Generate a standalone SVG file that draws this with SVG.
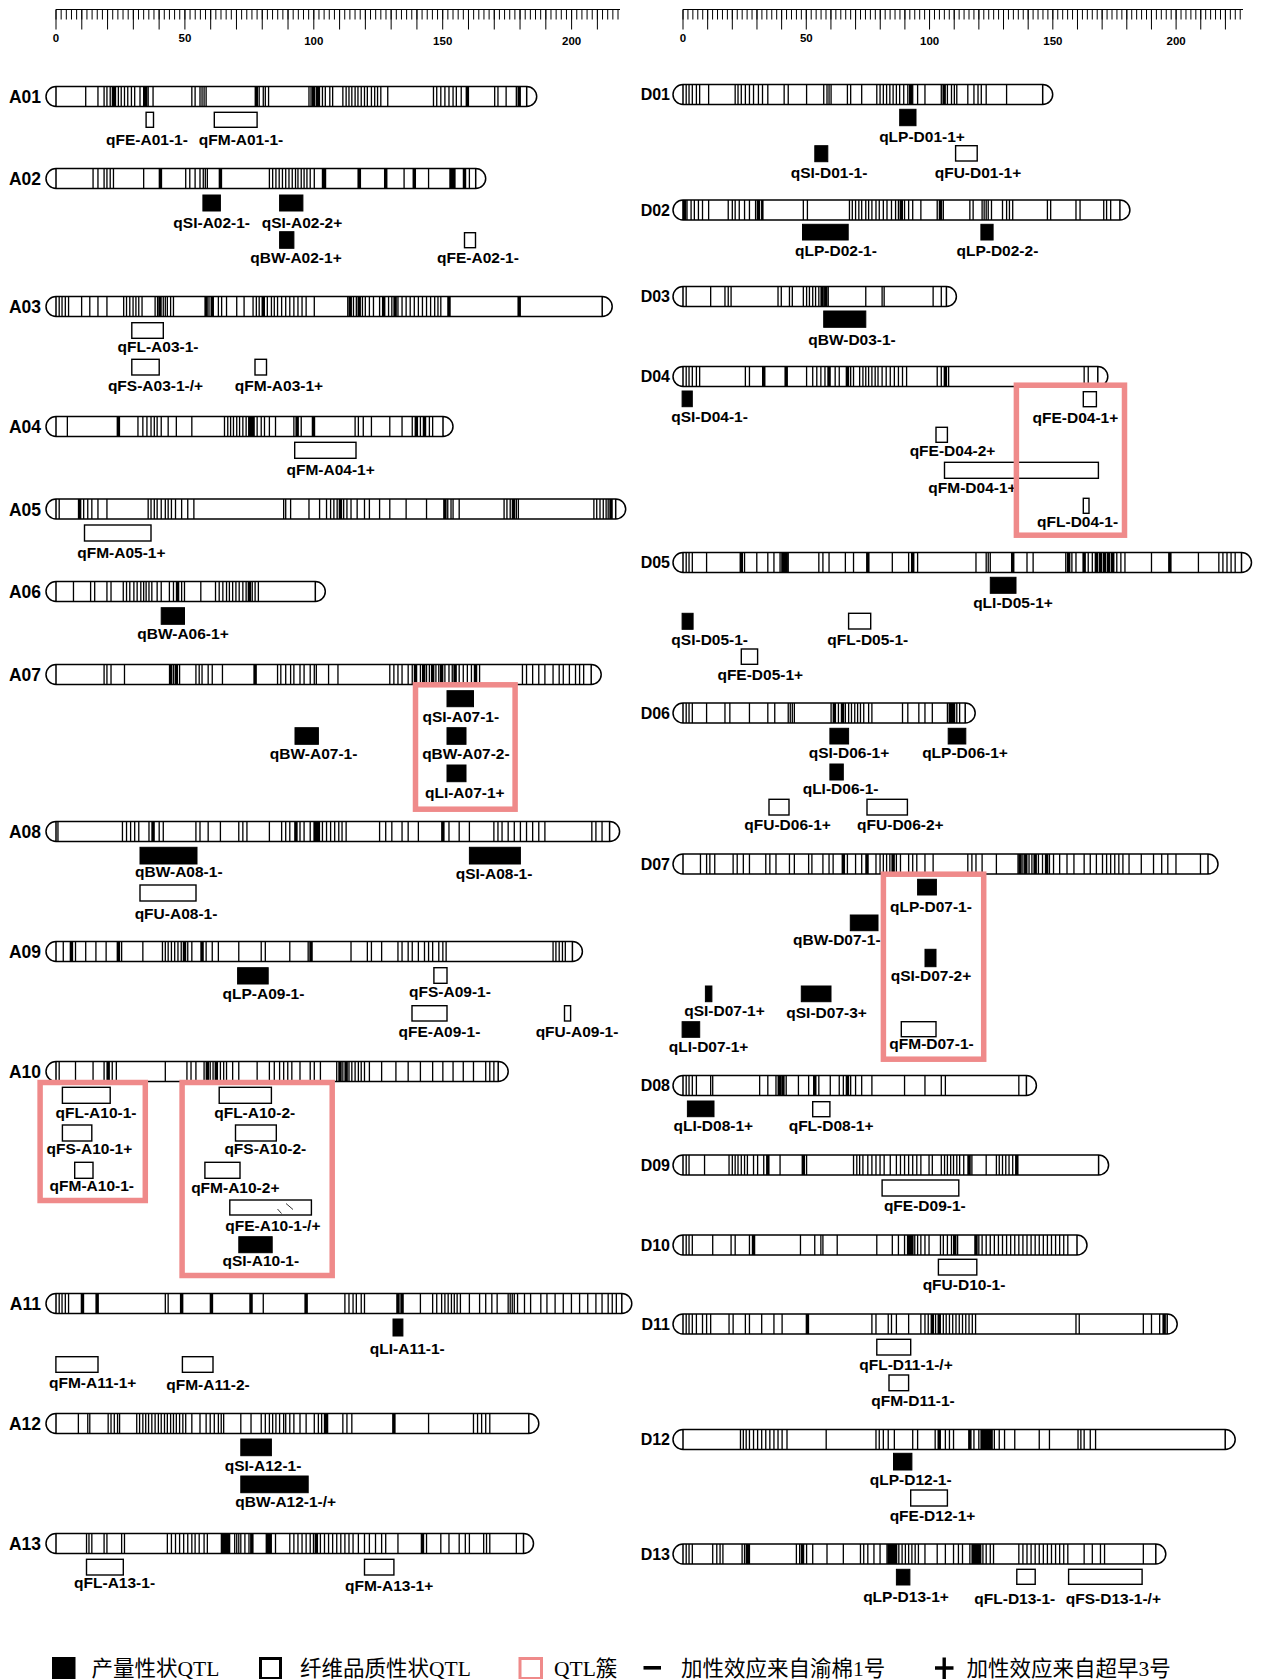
<svg xmlns="http://www.w3.org/2000/svg" width="1267" height="1679" viewBox="0 0 1267 1679">
<style>
.ch{fill:#fff;stroke:#000;stroke-width:1.5}
.bt{fill:none;stroke:#000;stroke-width:3.2}
.bk{fill:none;stroke:#000;stroke-width:8.5}
.qb{fill:#000;stroke:#000;stroke-width:1}
.qw{fill:#fff;stroke:#000;stroke-width:1.4}
.lb{font-family:"Liberation Sans",Arial,sans-serif;font-weight:bold;font-size:15.5px;text-anchor:middle;fill:#000}
.cl{font-family:"Liberation Sans",Arial,sans-serif;font-weight:bold;font-size:17.5px;text-anchor:end;fill:#000}
.cr{font-family:"Liberation Sans",Arial,sans-serif;font-weight:bold;font-size:16px;text-anchor:end;fill:#000}
.rl{font-family:"Liberation Sans",Arial,sans-serif;font-weight:bold;font-size:11.5px;text-anchor:middle;fill:#000}
.rc{fill:none;stroke:#ef8a8a;stroke-width:5.5}
.lg{font-family:"Liberation Serif","Noto Sans CJK SC",serif;font-size:21.5px;fill:#000}
</style>
<rect width="1267" height="1679" fill="#fff"/>

<g id="ruler-left">
<path d="M56 9.5H620" stroke="#000" stroke-width="1.2"/>
<line x1="55.5" y1="14.5" x2="620" y2="14.5" stroke="#000" stroke-width="10" stroke-dasharray="1 4.156"/>
<line x1="55.5" y1="19.5" x2="620" y2="19.5" stroke="#000" stroke-width="20" stroke-dasharray="1 24.78"/>
<text class="rl" x="56" y="41.5">0</text><text class="rl" x="184.9" y="41.5">50</text><text class="rl" x="313.8" y="44.7">100</text><text class="rl" x="442.7" y="44.7">150</text><text class="rl" x="571.6" y="44.7">200</text>
</g>
<g id="ruler-right">
<path d="M683 9.5H1243" stroke="#000" stroke-width="1.2"/>
<line x1="682.5" y1="14.5" x2="1243" y2="14.5" stroke="#000" stroke-width="10" stroke-dasharray="1 3.931"/>
<line x1="682.5" y1="19.5" x2="1243" y2="19.5" stroke="#000" stroke-width="20" stroke-dasharray="1 23.655"/>
<text class="rl" x="683" y="41.5">0</text><text class="rl" x="806.3" y="41.5">50</text><text class="rl" x="929.6" y="44.7">100</text><text class="rl" x="1052.9" y="44.7">150</text><text class="rl" x="1176.1" y="44.7">200</text>
</g>

<!-- A chromosomes -->
<g id="A01"><text class="cl" x="41" y="103">A01</text>
<path class="ch" d="M56 86.5h470.7a10 10 0 0 1 0 20h-470.7a10 10 0 0 1 0-20zM56 86.5v20M526.7 86.5v20"/>
<g transform="translate(0 86.5) scale(.408163 1)"><path class="bt" d="M210 0v20M240 0v20M255 0v20M262 0v20M270 0v20M283 0v20M290 0v20M297 0v20M305 0v20M313 0v20M322 0v20M330 0v20M343 0v20M352 0v20M363 0v20M375 0v20M470 0v20M478 0v20M490 0v20M495 0v20M500 0v20M505 0v20M635 0v20M645 0v20M650 0v20M658 0v20M757 0v20M762 0v20M775 0v20M790 0v20M797 0v20M808 0v20M815 0v20M840 0v20M848 0v20M855 0v20M862 0v20M870 0v20M877 0v20M885 0v20M893 0v20M900 0v20M910 0v20M918 0v20M925 0v20M933 0v20M950 0v20M1062 0v20M1070 0v20M1080 0v20M1090 0v20M1100 0v20M1110 0v20M1118 0v20M1130 0v20M1212 0v20M1220 0v20M1240 0v20M1265 0v20"/><path class="bk" d="M278 0v20M357 0v20M628 0v20M768 0v20M780 0v20M1145 0v20M1272 0v20"/></g>
</g>
<g id="A02"><text class="cl" x="41" y="185">A02</text>
<path class="ch" d="M56 168.5h419.7a10 10 0 0 1 0 20h-419.7a10 10 0 0 1 0-20zM56 168.5v20M475.7 168.5v20"/>
<g transform="translate(0 168.5) scale(.408163 1)"><path class="bt" d="M228 0v20M240 0v20M255 0v20M262 0v20M270 0v20M278 0v20M352 0v20M455 0v20M465 0v20M478 0v20M490 0v20M498 0v20M503 0v20M508 0v20M660 0v20M668 0v20M676 0v20M684 0v20M692 0v20M700 0v20M708 0v20M716 0v20M724 0v20M730 0v20M738 0v20M745 0v20M752 0v20M760 0v20M770 0v20M790 0v20M883 0v20M990 0v20M1050 0v20M1150 0v20"/><path class="bk" d="M393 0v20M540 0v20M795 0v20M880 0v20M945 0v20M1015 0v20M1105 0v20M1112 0v20M1138 0v20"/></g>
</g>
<g id="A03"><text class="cl" x="41" y="313">A03</text>
<path class="ch" d="M56 296.5h546.2a10 10 0 0 1 0 20h-546.2a10 10 0 0 1 0-20zM56 296.5v20M602.2 296.5v20"/>
<g transform="translate(0 296.5) scale(.408163 1)"><path class="bt" d="M145 0v20M152 0v20M160 0v20M168 0v20M200 0v20M220 0v20M240 0v20M262 0v20M303 0v20M310 0v20M318 0v20M326 0v20M333 0v20M340 0v20M348 0v20M380 0v20M386 0v20M400 0v20M405 0v20M410 0v20M418 0v20M425 0v20M512 0v20M535 0v20M543 0v20M555 0v20M580 0v20M598 0v20M620 0v20M628 0v20M635 0v20M655 0v20M665 0v20M672 0v20M680 0v20M690 0v20M700 0v20M710 0v20M720 0v20M730 0v20M740 0v20M750 0v20M770 0v20M852 0v20M866 0v20M873 0v20M888 0v20M895 0v20M905 0v20M915 0v20M930 0v20M952 0v20M960 0v20M975 0v20M985 0v20M995 0v20M1005 0v20M1015 0v20M1025 0v20M1035 0v20M1045 0v20M1055 0v20M1065 0v20M1073 0v20M1080 0v20"/><path class="bk" d="M392 0v20M505 0v20M520 0v20M645 0v20M858 0v20M880 0v20M940 0v20M968 0v20M1100 0v20M1272 0v20"/></g>
</g>
<g id="A04"><text class="cl" x="41" y="433">A04</text>
<path class="ch" d="M56 416.5h387a10 10 0 0 1 0 20h-387a10 10 0 0 1 0-20zM56 416.5v20M443 416.5v20"/>
<g transform="translate(0 416.5) scale(.408163 1)"><path class="bt" d="M165 0v20M338 0v20M350 0v20M360 0v20M370 0v20M378 0v20M385 0v20M395 0v20M412 0v20M432 0v20M470 0v20M550 0v20M558 0v20M565 0v20M572 0v20M580 0v20M587 0v20M595 0v20M603 0v20M630 0v20M640 0v20M648 0v20M660 0v20M675 0v20M720 0v20M738 0v20M870 0v20M878 0v20M890 0v20M910 0v20M955 0v20M985 0v20M1010 0v20M1030 0v20M1052 0v20M1060 0v20"/><path class="bk" d="M290 0v20M612 0v20M620 0v20M728 0v20M768 0v20M1020 0v20M1040 0v20"/></g>
</g>
<g id="A05"><text class="cl" x="41" y="515.5">A05</text>
<path class="ch" d="M56 499h559.7a10 10 0 0 1 0 20h-559.7a10 10 0 0 1 0-20zM56 499v20M615.7 499v20"/>
<g transform="translate(0 499) scale(.408163 1)"><path class="bt" d="M145 0v20M205 0v20M215 0v20M225 0v20M240 0v20M262 0v20M363 0v20M370 0v20M378 0v20M385 0v20M395 0v20M405 0v20M412 0v20M420 0v20M430 0v20M445 0v20M460 0v20M475 0v20M695 0v20M700 0v20M712 0v20M757 0v20M783 0v20M800 0v20M810 0v20M818 0v20M826 0v20M842 0v20M850 0v20M860 0v20M875 0v20M893 0v20M905 0v20M930 0v20M955 0v20M995 0v20M1045 0v20M1097 0v20M1105 0v20M1110 0v20M1125 0v20M1235 0v20M1242 0v20M1250 0v20M1265 0v20M1270 0v20M1455 0v20M1462 0v20M1470 0v20M1478 0v20M1485 0v20M1490 0v20"/><path class="bk" d="M195 0v20M834 0v20M1090 0v20M1258 0v20M1497 0v20"/></g>
</g>
<g id="A06"><text class="cl" x="41" y="598">A06</text>
<path class="ch" d="M56 581.5h259.3a10 10 0 0 1 0 20h-259.3a10 10 0 0 1 0-20zM56 581.5v20M315.3 581.5v20"/>
<g transform="translate(0 581.5) scale(.408163 1)"><path class="bt" d="M180 0v20M222 0v20M232 0v20M262 0v20M272 0v20M302 0v20M310 0v20M318 0v20M328 0v20M336 0v20M345 0v20M352 0v20M358 0v20M365 0v20M372 0v20M385 0v20M395 0v20M415 0v20M425 0v20M445 0v20M452 0v20M492 0v20M528 0v20M537 0v20M546 0v20M555 0v20M562 0v20M570 0v20M578 0v20M586 0v20M595 0v20M603 0v20M618 0v20M625 0v20M633 0v20"/><path class="bk" d="M435 0v20M611 0v20"/></g>
</g>
<g id="A07"><text class="cl" x="41" y="681">A07</text>
<path class="ch" d="M56 664.5h535.2a10 10 0 0 1 0 20h-535.2a10 10 0 0 1 0-20zM56 664.5v20M591.2 664.5v20"/>
<g transform="translate(0 664.5) scale(.408163 1)"><path class="bt" d="M255 0v20M262 0v20M272 0v20M305 0v20M425 0v20M440 0v20M480 0v20M488 0v20M495 0v20M510 0v20M520 0v20M545 0v20M680 0v20M688 0v20M700 0v20M712 0v20M720 0v20M735 0v20M745 0v20M760 0v20M770 0v20M775 0v20M805 0v20M828 0v20M955 0v20M965 0v20M975 0v20M985 0v20M1000 0v20M1010 0v20M1030 0v20M1045 0v20M1052 0v20M1068 0v20M1075 0v20M1090 0v20M1100 0v20M1108 0v20M1125 0v20M1135 0v20M1145 0v20M1155 0v20M1175 0v20M1280 0v20M1290 0v20M1305 0v20M1320 0v20M1335 0v20M1355 0v20M1370 0v20M1380 0v20M1395 0v20M1410 0v20M1420 0v20M1430 0v20"/><path class="bk" d="M418 0v20M432 0v20M625 0v20M1018 0v20M1038 0v20M1060 0v20M1082 0v20M1115 0v20M1165 0v20"/></g>
</g>
<g id="A08"><text class="cl" x="41" y="838">A08</text>
<path class="ch" d="M56 821.5h553.6a10 10 0 0 1 0 20h-553.6a10 10 0 0 1 0-20zM56 821.5v20M609.6 821.5v20"/>
<g transform="translate(0 821.5) scale(.408163 1)"><path class="bt" d="M142 0v20M300 0v20M310 0v20M320 0v20M330 0v20M340 0v20M365 0v20M390 0v20M400 0v20M480 0v20M490 0v20M510 0v20M540 0v20M585 0v20M595 0v20M605 0v20M660 0v20M690 0v20M700 0v20M710 0v20M735 0v20M745 0v20M760 0v20M790 0v20M800 0v20M810 0v20M820 0v20M830 0v20M838 0v20M848 0v20M930 0v20M945 0v20M960 0v20M985 0v20M1000 0v20M1025 0v20M1100 0v20M1125 0v20M1150 0v20M1210 0v20M1220 0v20M1230 0v20M1245 0v20M1260 0v20M1275 0v20M1290 0v20M1305 0v20M1320 0v20M1335 0v20M1450 0v20M1460 0v20M1475 0v20"/><path class="bk" d="M375 0v20M725 0v20M772 0v20M780 0v20M1085 0v20"/></g>
</g>
<g id="A09"><text class="cl" x="41" y="958">A09</text>
<path class="ch" d="M56 941.5h516.4a10 10 0 0 1 0 20h-516.4a10 10 0 0 1 0-20zM56 941.5v20M572.4 941.5v20"/>
<g transform="translate(0 941.5) scale(.408163 1)"><path class="bt" d="M155 0v20M185 0v20M210 0v20M235 0v20M260 0v20M298 0v20M350 0v20M398 0v20M405 0v20M412 0v20M420 0v20M428 0v20M436 0v20M444 0v20M460 0v20M470 0v20M505 0v20M520 0v20M535 0v20M585 0v20M640 0v20M650 0v20M710 0v20M755 0v20M860 0v20M900 0v20M910 0v20M935 0v20M975 0v20M985 0v20M1000 0v20M1010 0v20M1025 0v20M1040 0v20M1050 0v20M1060 0v20M1075 0v20M1085 0v20M1093 0v20M1355 0v20M1362 0v20M1370 0v20M1378 0v20M1385 0v20"/><path class="bk" d="M175 0v20M290 0v20M452 0v20M495 0v20M762 0v20"/></g>
</g>
<g id="A10"><text class="cl" x="41" y="1078">A10</text>
<path class="ch" d="M56 1061.5h442.2a10 10 0 0 1 0 20h-442.2a10 10 0 0 1 0-20zM56 1061.5v20M498.2 1061.5v20"/>
<g transform="translate(0 1061.5) scale(.408163 1)"><path class="bt" d="M145 0v20M185 0v20M228 0v20M255 0v20M275 0v20M285 0v20M405 0v20M458 0v20M468 0v20M480 0v20M500 0v20M515 0v20M522 0v20M540 0v20M548 0v20M555 0v20M570 0v20M585 0v20M630 0v20M660 0v20M672 0v20M685 0v20M695 0v20M705 0v20M715 0v20M735 0v20M760 0v20M770 0v20M785 0v20M825 0v20M840 0v20M855 0v20M862 0v20M870 0v20M878 0v20M885 0v20M893 0v20M905 0v20M935 0v20M970 0v20M1000 0v20M1030 0v20M1060 0v20M1085 0v20M1110 0v20M1135 0v20M1160 0v20M1190 0v20M1200 0v20M1210 0v20"/><path class="bk" d="M265 0v20M508 0v20M530 0v20M833 0v20M848 0v20"/></g>
</g>
<g id="A11"><text class="cl" x="41" y="1310">A11</text>
<path class="ch" d="M56 1293.5h565.8a10 10 0 0 1 0 20h-565.8a10 10 0 0 1 0-20zM56 1293.5v20M621.8 1293.5v20"/>
<g transform="translate(0 1293.5) scale(.408163 1)"><path class="bt" d="M145 0v20M152 0v20M160 0v20M168 0v20M405 0v20M412 0v20M645 0v20M845 0v20M855 0v20M865 0v20M873 0v20M885 0v20M893 0v20M1030 0v20M1060 0v20M1070 0v20M1082 0v20M1090 0v20M1098 0v20M1106 0v20M1113 0v20M1120 0v20M1128 0v20M1150 0v20M1175 0v20M1190 0v20M1205 0v20M1218 0v20M1245 0v20M1250 0v20M1255 0v20M1260 0v20M1268 0v20M1285 0v20M1300 0v20M1325 0v20M1340 0v20M1360 0v20M1380 0v20M1400 0v20M1420 0v20M1440 0v20M1460 0v20M1475 0v20M1490 0v20M1500 0v20M1510 0v20"/><path class="bk" d="M202 0v20M238 0v20M445 0v20M518 0v20M615 0v20M750 0v20M975 0v20M985 0v20"/></g>
</g>
<g id="A12"><text class="cl" x="41" y="1430">A12</text>
<path class="ch" d="M56 1413.5h472.8a10 10 0 0 1 0 20h-472.8a10 10 0 0 1 0-20zM56 1413.5v20M528.8 1413.5v20"/>
<g transform="translate(0 1413.5) scale(.408163 1)"><path class="bt" d="M192 0v20M215 0v20M220 0v20M265 0v20M272 0v20M280 0v20M288 0v20M293 0v20M335 0v20M342 0v20M350 0v20M357 0v20M364 0v20M372 0v20M380 0v20M388 0v20M395 0v20M403 0v20M410 0v20M418 0v20M425 0v20M432 0v20M440 0v20M448 0v20M455 0v20M470 0v20M490 0v20M505 0v20M515 0v20M525 0v20M535 0v20M542 0v20M548 0v20M590 0v20M615 0v20M640 0v20M650 0v20M660 0v20M668 0v20M676 0v20M685 0v20M695 0v20M700 0v20M710 0v20M720 0v20M735 0v20M750 0v20M770 0v20M780 0v20M788 0v20M795 0v20M840 0v20M850 0v20M862 0v20M1050 0v20M1160 0v20M1170 0v20M1180 0v20M1190 0v20M1200 0v20"/><path class="bk" d="M800 0v20M965 0v20"/></g>
</g>
<g id="A13"><text class="cl" x="41" y="1550">A13</text>
<path class="ch" d="M56 1533.5h467.5a10 10 0 0 1 0 20h-467.5a10 10 0 0 1 0-20zM56 1533.5v20M523.5 1533.5v20"/>
<g transform="translate(0 1533.5) scale(.408163 1)"><path class="bt" d="M212 0v20M218 0v20M225 0v20M255 0v20M262 0v20M298 0v20M305 0v20M410 0v20M420 0v20M430 0v20M440 0v20M450 0v20M460 0v20M470 0v20M478 0v20M488 0v20M500 0v20M508 0v20M575 0v20M580 0v20M585 0v20M590 0v20M600 0v20M610 0v20M675 0v20M710 0v20M720 0v20M730 0v20M740 0v20M750 0v20M760 0v20M768 0v20M785 0v20M795 0v20M805 0v20M815 0v20M825 0v20M835 0v20M845 0v20M855 0v20M865 0v20M878 0v20M893 0v20M905 0v20M920 0v20M935 0v20M945 0v20M975 0v20M1045 0v20M1080 0v20M1100 0v20M1125 0v20M1140 0v20M1150 0v20M1185 0v20M1192 0v20M1200 0v20M1265 0v20"/><path class="bk" d="M545 0v20M552 0v20M560 0v20M617 0v20M655 0v20M662 0v20M775 0v20M1035 0v20"/></g>
</g>

<!-- D chromosomes -->
<g id="D01"><text class="cr" x="670" y="100">D01</text>
<path class="ch" d="M683 84.5h359.7a10 10 0 0 1 0 20h-359.7a10 10 0 0 1 0-20zM683 84.5v20M1042.7 84.5v20"/>
<g transform="translate(627 84.5) scale(.408163 1)"><path class="bt" d="M145 0v20M152 0v20M160 0v20M170 0v20M178 0v20M200 0v20M265 0v20M272 0v20M280 0v20M290 0v20M300 0v20M310 0v20M322 0v20M332 0v20M345 0v20M385 0v20M395 0v20M440 0v20M482 0v20M490 0v20M495 0v20M500 0v20M540 0v20M548 0v20M575 0v20M612 0v20M620 0v20M628 0v20M636 0v20M644 0v20M652 0v20M660 0v20M668 0v20M678 0v20M688 0v20M700 0v20M712 0v20M730 0v20M770 0v20M785 0v20M795 0v20M802 0v20M808 0v20M835 0v20M850 0v20M860 0v20M868 0v20M880 0v20M930 0v20"/><path class="bk" d="M695 0v20M777 0v20"/></g>
</g>
<g id="D02"><text class="cr" x="670" y="215.5">D02</text>
<path class="ch" d="M683 200h436.9a10 10 0 0 1 0 20h-436.9a10 10 0 0 1 0-20zM683 200v20M1119.9 200v20"/>
<g transform="translate(627 200) scale(.408163 1)"><path class="bt" d="M147 0v20M157 0v20M165 0v20M175 0v20M185 0v20M200 0v20M248 0v20M258 0v20M265 0v20M275 0v20M288 0v20M300 0v20M315 0v20M330 0v20M333 0v20M432 0v20M442 0v20M545 0v20M552 0v20M560 0v20M568 0v20M575 0v20M585 0v20M592 0v20M600 0v20M610 0v20M618 0v20M628 0v20M637 0v20M648 0v20M658 0v20M665 0v20M680 0v20M690 0v20M700 0v20M720 0v20M760 0v20M775 0v20M840 0v20M848 0v20M870 0v20M875 0v20M880 0v20M885 0v20M893 0v20M920 0v20M930 0v20M937 0v20M945 0v20M1030 0v20M1038 0v20M1100 0v20M1110 0v20M1168 0v20M1175 0v20M1185 0v20"/><path class="bk" d="M141 0v20M322 0v20M672 0v20M768 0v20"/></g>
</g>
<g id="D03"><text class="cr" x="670" y="302">D03</text>
<path class="ch" d="M683 286.5h263.4a10 10 0 0 1 0 20h-263.4a10 10 0 0 1 0-20zM683 286.5v20M946.4 286.5v20"/>
<g transform="translate(627 286.5) scale(.408163 1)"><path class="bt" d="M145 0v20M205 0v20M240 0v20M248 0v20M255 0v20M370 0v20M378 0v20M398 0v20M405 0v20M432 0v20M440 0v20M447 0v20M455 0v20M462 0v20M470 0v20M493 0v20M585 0v20M625 0v20M630 0v20M750 0v20M770 0v20"/><path class="bk" d="M478 0v20M487 0v20"/></g>
</g>
<g id="D04"><text class="cr" x="670" y="382">D04</text>
<path class="ch" d="M683 366.5h414.8a10 10 0 0 1 0 20h-414.8a10 10 0 0 1 0-20zM683 366.5v20M1097.8 366.5v20"/>
<g transform="translate(627 366.5) scale(.408163 1)"><path class="bt" d="M145 0v20M152 0v20M160 0v20M170 0v20M178 0v20M290 0v20M300 0v20M440 0v20M455 0v20M465 0v20M475 0v20M485 0v20M510 0v20M520 0v20M548 0v20M555 0v20M570 0v20M578 0v20M585 0v20M592 0v20M600 0v20M608 0v20M615 0v20M625 0v20M635 0v20M645 0v20M655 0v20M665 0v20M675 0v20M685 0v20M760 0v20M770 0v20M788 0v20M1120 0v20M1130 0v20"/><path class="bk" d="M335 0v20M390 0v20M495 0v20M540 0v20M780 0v20"/></g>
</g>
<g id="D05"><text class="cr" x="670" y="568">D05</text>
<path class="ch" d="M683 552.5h558.5a10 10 0 0 1 0 20h-558.5a10 10 0 0 1 0-20zM683 552.5v20M1241.5 552.5v20"/>
<g transform="translate(627 552.5) scale(.408163 1)"><path class="bt" d="M145 0v20M152 0v20M160 0v20M195 0v20M288 0v20M318 0v20M345 0v20M360 0v20M375 0v20M395 0v20M470 0v20M480 0v20M495 0v20M535 0v20M555 0v20M650 0v20M690 0v20M712 0v20M855 0v20M880 0v20M885 0v20M890 0v20M980 0v20M995 0v20M1075 0v20M1090 0v20M1100 0v20M1130 0v20M1140 0v20M1200 0v20M1210 0v20M1220 0v20M1285 0v20M1400 0v20M1450 0v20M1460 0v20M1470 0v20M1480 0v20M1490 0v20"/><path class="bk" d="M280 0v20M382 0v20M390 0v20M590 0v20M700 0v20M945 0v20M1082 0v20M1120 0v20M1150 0v20M1160 0v20M1170 0v20M1180 0v20M1190 0v20M1330 0v20"/></g>
</g>
<g id="D06"><text class="cr" x="670" y="718.5">D06</text>
<path class="ch" d="M683 703h282.2a10 10 0 0 1 0 20h-282.2a10 10 0 0 1 0-20zM683 703v20M965.2 703v20"/>
<g transform="translate(627 703) scale(.408163 1)"><path class="bt" d="M145 0v20M152 0v20M160 0v20M195 0v20M240 0v20M252 0v20M300 0v20M345 0v20M362 0v20M395 0v20M400 0v20M405 0v20M410 0v20M500 0v20M518 0v20M535 0v20M543 0v20M550 0v20M558 0v20M565 0v20M572 0v20M580 0v20M592 0v20M600 0v20M675 0v20M688 0v20M715 0v20M730 0v20M748 0v20M785 0v20M808 0v20M815 0v20"/><path class="bk" d="M508 0v20M528 0v20M792 0v20M800 0v20"/></g>
</g>
<g id="D07"><text class="cr" x="670" y="869.5">D07</text>
<path class="ch" d="M683 854h525a10 10 0 0 1 0 20h-525a10 10 0 0 1 0-20zM683 854v20M1208 854v20"/>
<g transform="translate(627 854) scale(.408163 1)"><path class="bt" d="M180 0v20M195 0v20M203 0v20M215 0v20M260 0v20M270 0v20M285 0v20M300 0v20M340 0v20M350 0v20M365 0v20M398 0v20M410 0v20M445 0v20M453 0v20M480 0v20M495 0v20M505 0v20M540 0v20M560 0v20M575 0v20M610 0v20M620 0v20M628 0v20M636 0v20M644 0v20M660 0v20M670 0v20M690 0v20M700 0v20M710 0v20M730 0v20M750 0v20M835 0v20M845 0v20M855 0v20M870 0v20M905 0v20M958 0v20M970 0v20M985 0v20M992 0v20M1008 0v20M1018 0v20M1035 0v20M1045 0v20M1060 0v20M1078 0v20M1095 0v20M1120 0v20M1135 0v20M1150 0v20M1165 0v20M1175 0v20M1185 0v20M1195 0v20M1205 0v20M1215 0v20M1230 0v20M1260 0v20M1290 0v20M1310 0v20M1325 0v20M1345 0v20M1405 0v20"/><path class="bk" d="M530 0v20M588 0v20M652 0v20M963 0v20M977 0v20M1000 0v20M1028 0v20"/></g>
</g>
<g id="D08"><text class="cr" x="670" y="1091">D08</text>
<path class="ch" d="M683 1075.5h343.4a10 10 0 0 1 0 20h-343.4a10 10 0 0 1 0-20zM683 1075.5v20M1026.4 1075.5v20"/>
<g transform="translate(627 1075.5) scale(.408163 1)"><path class="bt" d="M145 0v20M152 0v20M160 0v20M170 0v20M205 0v20M210 0v20M325 0v20M345 0v20M365 0v20M390 0v20M420 0v20M445 0v20M470 0v20M498 0v20M520 0v20M530 0v20M548 0v20M560 0v20M575 0v20M600 0v20M680 0v20M730 0v20M770 0v20M780 0v20M960 0v20"/><path class="bk" d="M373 0v20M382 0v20M460 0v20M540 0v20"/></g>
</g>
<g id="D09"><text class="cr" x="670" y="1170.5">D09</text>
<path class="ch" d="M683 1155h415.6a10 10 0 0 1 0 20h-415.6a10 10 0 0 1 0-20zM683 1155v20M1098.6 1155v20"/>
<g transform="translate(627 1155) scale(.408163 1)"><path class="bt" d="M145 0v20M152 0v20M190 0v20M250 0v20M258 0v20M265 0v20M272 0v20M280 0v20M288 0v20M295 0v20M310 0v20M320 0v20M335 0v20M375 0v20M440 0v20M555 0v20M563 0v20M570 0v20M578 0v20M590 0v20M600 0v20M610 0v20M620 0v20M630 0v20M645 0v20M660 0v20M670 0v20M680 0v20M690 0v20M700 0v20M710 0v20M720 0v20M740 0v20M748 0v20M770 0v20M778 0v20M785 0v20M793 0v20M800 0v20M808 0v20M815 0v20M825 0v20M845 0v20M880 0v20M905 0v20M912 0v20M920 0v20M928 0v20M936 0v20M945 0v20"/><path class="bk" d="M345 0v20M432 0v20M838 0v20M955 0v20"/></g>
</g>
<g id="D10"><text class="cr" x="670" y="1250.5">D10</text>
<path class="ch" d="M683 1235h394a10 10 0 0 1 0 20h-394a10 10 0 0 1 0-20zM683 1235v20M1077 1235v20"/>
<g transform="translate(627 1235) scale(.408163 1)"><path class="bt" d="M145 0v20M152 0v20M160 0v20M210 0v20M255 0v20M265 0v20M300 0v20M425 0v20M460 0v20M475 0v20M480 0v20M515 0v20M612 0v20M650 0v20M665 0v20M680 0v20M705 0v20M712 0v20M720 0v20M730 0v20M740 0v20M768 0v20M775 0v20M785 0v20M795 0v20M810 0v20M862 0v20M870 0v20M880 0v20M890 0v20M900 0v20M910 0v20M920 0v20M930 0v20M940 0v20M950 0v20M960 0v20M970 0v20M980 0v20M990 0v20M1000 0v20M1010 0v20M1020 0v20M1030 0v20M1040 0v20M1050 0v20M1060 0v20M1070 0v20M1080 0v20"/><path class="bk" d="M310 0v20M690 0v20M698 0v20M803 0v20M855 0v20"/></g>
</g>
<g id="D11"><text class="cr" x="670" y="1329.5">D11</text>
<path class="ch" d="M683 1314h484.2a10 10 0 0 1 0 20h-484.2a10 10 0 0 1 0-20zM683 1314v20M1167.2 1314v20"/>
<g transform="translate(627 1314) scale(.408163 1)"><path class="bt" d="M145 0v20M152 0v20M160 0v20M170 0v20M185 0v20M195 0v20M205 0v20M250 0v20M260 0v20M290 0v20M300 0v20M330 0v20M360 0v20M380 0v20M600 0v20M610 0v20M640 0v20M648 0v20M660 0v20M690 0v20M720 0v20M730 0v20M738 0v20M756 0v20M775 0v20M782 0v20M790 0v20M798 0v20M806 0v20M814 0v20M822 0v20M830 0v20M838 0v20M846 0v20M854 0v20M1100 0v20M1108 0v20M1265 0v20M1285 0v20M1305 0v20"/><path class="bk" d="M442 0v20M748 0v20M765 0v20M1316 0v20"/></g>
</g>
<g id="D12"><text class="cr" x="670" y="1445">D12</text>
<path class="ch" d="M683 1429.5h542.2a10 10 0 0 1 0 20h-542.2a10 10 0 0 1 0-20zM683 1429.5v20M1225.2 1429.5v20"/>
<g transform="translate(627 1429.5) scale(.408163 1)"><path class="bt" d="M278 0v20M285 0v20M292 0v20M300 0v20M310 0v20M320 0v20M330 0v20M340 0v20M350 0v20M360 0v20M370 0v20M380 0v20M392 0v20M488 0v20M610 0v20M618 0v20M628 0v20M640 0v20M655 0v20M700 0v20M712 0v20M755 0v20M780 0v20M790 0v20M800 0v20M850 0v20M862 0v20M900 0v20M912 0v20M925 0v20M950 0v20M1010 0v20M1035 0v20M1105 0v20M1112 0v20M1120 0v20M1135 0v20M1148 0v20"/><path class="bk" d="M765 0v20M840 0v20M870 0v20M878 0v20M885 0v20M892 0v20"/></g>
</g>
<g id="D13"><text class="cr" x="670" y="1559.5">D13</text>
<path class="ch" d="M683 1544h472.8a10 10 0 0 1 0 20h-472.8a10 10 0 0 1 0-20zM683 1544v20M1155.8 1544v20"/>
<g transform="translate(627 1544) scale(.408163 1)"><path class="bt" d="M145 0v20M152 0v20M160 0v20M210 0v20M220 0v20M228 0v20M235 0v20M282 0v20M288 0v20M300 0v20M415 0v20M423 0v20M440 0v20M455 0v20M490 0v20M530 0v20M572 0v20M580 0v20M590 0v20M605 0v20M620 0v20M637 0v20M666 0v20M674 0v20M682 0v20M690 0v20M698 0v20M706 0v20M714 0v20M730 0v20M760 0v20M780 0v20M800 0v20M812 0v20M822 0v20M840 0v20M872 0v20M880 0v20M890 0v20M898 0v20M960 0v20M970 0v20M980 0v20M990 0v20M1000 0v20M1010 0v20M1020 0v20M1030 0v20M1040 0v20M1050 0v20M1060 0v20M1070 0v20M1080 0v20M1120 0v20M1140 0v20M1160 0v20M1170 0v20M1265 0v20"/><path class="bk" d="M295 0v20M430 0v20M642 0v20M650 0v20M658 0v20M848 0v20M856 0v20M864 0v20"/></g>
</g>

<!-- QTLs A -->
<g id="qFE-A01-1m"><rect class="qw" x="146.1" y="112.3" width="7.4" height="15"/><text class="lb" x="147" y="145">qFE-A01-1-</text></g>
<g id="qFM-A01-1m"><rect class="qw" x="214.3" y="112.3" width="42.8" height="15"/><text class="lb" x="241" y="145">qFM-A01-1-</text></g>
<g id="qSI-A02-1m"><rect class="qb" x="202.9" y="195" width="17.5" height="16"/><text class="lb" x="211.7" y="227.7">qSI-A02-1-</text></g>
<g id="qSI-A02-2p"><rect class="qb" x="279.6" y="195" width="23.3" height="16"/><text class="lb" x="302" y="227.7">qSI-A02-2+</text></g>
<g id="qBW-A02-1p"><rect class="qb" x="279.6" y="231.7" width="14.3" height="16.6"/><text class="lb" x="296" y="263.3">qBW-A02-1+</text></g>
<g id="qFE-A02-1m"><rect class="qw" x="464.5" y="232.7" width="11" height="15"/><text class="lb" x="478" y="263.3">qFE-A02-1-</text></g>
<g id="qFL-A03-1m"><rect class="qw" x="131.8" y="322.7" width="31.5" height="15.6"/><text class="lb" x="158" y="351.7">qFL-A03-1-</text></g>
<g id="qFS-A03-1mp"><rect class="qw" x="131.8" y="359.3" width="27.4" height="15.7"/><text class="lb" x="155.5" y="391">qFS-A03-1-/+</text></g>
<g id="qFM-A03-1p"><rect class="qw" x="255" y="359.3" width="11.5" height="15.7"/><text class="lb" x="279" y="391">qFM-A03-1+</text></g>
<g id="qFM-A04-1p"><rect class="qw" x="294.7" y="442.3" width="61.3" height="16"/><text class="lb" x="330.6" y="475">qFM-A04-1+</text></g>
<g id="qFM-A05-1p"><rect class="qw" x="84.5" y="525" width="66.5" height="16"/><text class="lb" x="121.4" y="558.3">qFM-A05-1+</text></g>
<g id="qBW-A06-1p"><rect class="qb" x="161.2" y="607.7" width="23.3" height="16.6"/><text class="lb" x="183" y="639">qBW-A06-1+</text></g>
<g id="qSI-A07-1m"><rect class="qb" x="447" y="690.7" width="26.5" height="16"/><text class="lb" x="460.8" y="721.7">qSI-A07-1-</text></g>
<g id="qBW-A07-2m"><rect class="qb" x="447" y="727.7" width="19" height="16.6"/><text class="lb" x="465.9" y="759.3">qBW-A07-2-</text></g>
<g id="qLI-A07-1p"><rect class="qb" x="447" y="765" width="19" height="16.7"/><text class="lb" x="464.8" y="798.3">qLI-A07-1+</text></g>
<g id="qBW-A07-1m"><rect class="qb" x="295" y="727.7" width="23.4" height="16.6"/><text class="lb" x="313.6" y="759.3">qBW-A07-1-</text></g>
<g id="qBW-A08-1m"><rect class="qb" x="140" y="847.3" width="57" height="16.7"/><text class="lb" x="178.8" y="877.3">qBW-A08-1-</text></g>
<g id="qFU-A08-1m"><rect class="qw" x="140" y="885" width="56" height="16"/><text class="lb" x="176" y="919">qFU-A08-1-</text></g>
<g id="qSI-A08-1m"><rect class="qb" x="469.4" y="847.3" width="51" height="16.7"/><text class="lb" x="494" y="879.3">qSI-A08-1-</text></g>
<g id="qLP-A09-1m"><rect class="qb" x="237.6" y="967.7" width="30.6" height="16.3"/><text class="lb" x="263.5" y="999.3">qLP-A09-1-</text></g>
<g id="qFS-A09-1m"><rect class="qw" x="433.9" y="967.7" width="13.1" height="15.6"/><text class="lb" x="450" y="997.3">qFS-A09-1-</text></g>
<g id="qFE-A09-1m"><rect class="qw" x="412" y="1005.7" width="35" height="15.3"/><text class="lb" x="439.4" y="1036.7">qFE-A09-1-</text></g>
<g id="qFU-A09-1m"><rect class="qw" x="564.5" y="1005.7" width="6.1" height="15.3"/><text class="lb" x="577" y="1036.7">qFU-A09-1-</text></g>
<g id="qFL-A10-1m"><rect class="qw" x="62.4" y="1087.3" width="47.8" height="16"/><text class="lb" x="96" y="1117.7">qFL-A10-1-</text></g>
<g id="qFL-A10-2m"><rect class="qw" x="219.2" y="1087.3" width="52.2" height="16"/><text class="lb" x="254.7" y="1117.7">qFL-A10-2-</text></g>
<g id="qFS-A10-1p"><rect class="qw" x="62.4" y="1125" width="29.4" height="16"/><text class="lb" x="89.4" y="1154.3">qFS-A10-1+</text></g>
<g id="qFM-A10-1m"><rect class="qw" x="74.7" y="1162.3" width="18.3" height="16"/><text class="lb" x="91.8" y="1191">qFM-A10-1-</text></g>
<g id="qFS-A10-2m"><rect class="qw" x="235.5" y="1125" width="40.8" height="16"/><text class="lb" x="265.3" y="1154.3">qFS-A10-2-</text></g>
<g id="qFM-A10-2p"><rect class="qw" x="204.9" y="1162.3" width="35.1" height="16"/><text class="lb" x="235.3" y="1193">qFM-A10-2+</text></g>
<g id="qFE-A10-1mp"><rect class="qw" x="229.8" y="1200" width="81.6" height="15"/><path d="M277.5 1209l4 4.5M286 1203.5l7 6" stroke="#000" stroke-width="0.8"/><text class="lb" x="272.9" y="1231">qFE-A10-1-/+</text></g>
<g id="qSI-A10-1m"><rect class="qb" x="238.8" y="1236.7" width="33.4" height="16"/><text class="lb" x="260.8" y="1266">qSI-A10-1-</text></g>
<g id="qLI-A11-1m"><rect class="qb" x="393" y="1319" width="9.9" height="17"/><text class="lb" x="407.3" y="1354.3">qLI-A11-1-</text></g>
<g id="qFM-A11-1p"><rect class="qw" x="55.9" y="1356.7" width="42.1" height="15.6"/><text class="lb" x="92.7" y="1387.7">qFM-A11-1+</text></g>
<g id="qFM-A11-2m"><rect class="qw" x="182.4" y="1356.7" width="30.6" height="15.6"/><text class="lb" x="208" y="1390">qFM-A11-2-</text></g>
<g id="qSI-A12-1m"><rect class="qb" x="240.8" y="1439" width="30.6" height="16.7"/><text class="lb" x="263" y="1470.7">qSI-A12-1-</text></g>
<g id="qBW-A12-1mp"><rect class="qb" x="240.8" y="1476" width="67.4" height="16.7"/><text class="lb" x="285.7" y="1507.3">qBW-A12-1-/+</text></g>
<g id="qFL-A13-1m"><rect class="qw" x="86.5" y="1559.3" width="36.8" height="15.7"/><text class="lb" x="114.6" y="1588.3">qFL-A13-1-</text></g>
<g id="qFM-A13-1p"><rect class="qw" x="364.5" y="1559.3" width="29.4" height="15.7"/><text class="lb" x="389.1" y="1590.7">qFM-A13-1+</text></g>

<!-- QTLs D -->
<g id="qLP-D01-1p"><rect class="qb" x="899.7" y="109.3" width="16.3" height="16.4"/><text class="lb" x="922" y="141.7">qLP-D01-1+</text></g>
<g id="qSI-D01-1m"><rect class="qb" x="814.8" y="145.7" width="13" height="16"/><text class="lb" x="829" y="177.7">qSI-D01-1-</text></g>
<g id="qFU-D01-1p"><rect class="qw" x="955.6" y="145.7" width="21.6" height="15.3"/><text class="lb" x="978" y="177.7">qFU-D01-1+</text></g>
<g id="qLP-D02-1m"><rect class="qb" x="802.5" y="224.3" width="45.7" height="15.7"/><text class="lb" x="836" y="255.7">qLP-D02-1-</text></g>
<g id="qLP-D02-2m"><rect class="qb" x="980.9" y="224.3" width="12.2" height="15.7"/><text class="lb" x="997.4" y="255.7">qLP-D02-2-</text></g>
<g id="qBW-D03-1m"><rect class="qb" x="823.7" y="311" width="42.1" height="16.3"/><text class="lb" x="852" y="345">qBW-D03-1-</text></g>
<g id="qSI-D04-1m"><rect class="qb" x="682.1" y="391" width="10.2" height="15.7"/><text class="lb" x="709.5" y="421.7">qSI-D04-1-</text></g>
<g id="qFE-D04-1p"><rect class="qw" x="1083.3" y="391.7" width="13.1" height="15"/><text class="lb" x="1075.4" y="423.3">qFE-D04-1+</text></g>
<g id="qFE-D04-2p"><rect class="qw" x="936" y="427.3" width="11.4" height="15"/><text class="lb" x="952.5" y="455.7">qFE-D04-2+</text></g>
<g id="qFM-D04-1p"><rect class="qw" x="944.5" y="462.3" width="153.9" height="16"/><text class="lb" x="972.5" y="493.3">qFM-D04-1+</text></g>
<g id="qFL-D04-1m"><rect class="qw" x="1083.3" y="498.3" width="5.7" height="15"/><text class="lb" x="1077.6" y="526.7">qFL-D04-1-</text></g>
<g id="qLI-D05-1p"><rect class="qb" x="990.3" y="577.3" width="25.7" height="16"/><text class="lb" x="1013" y="607.7">qLI-D05-1+</text></g>
<g id="qSI-D05-1m"><rect class="qb" x="682.1" y="613.3" width="11" height="16"/><text class="lb" x="709.7" y="645">qSI-D05-1-</text></g>
<g id="qFL-D05-1m"><rect class="qw" x="848.6" y="613.3" width="22.1" height="15.7"/><text class="lb" x="867.8" y="645">qFL-D05-1-</text></g>
<g id="qFE-D05-1p"><rect class="qw" x="741.3" y="649" width="16.3" height="15.3"/><text class="lb" x="760.3" y="680">qFE-D05-1+</text></g>
<g id="qSI-D06-1p"><rect class="qb" x="829.9" y="728.3" width="18.7" height="15.7"/><text class="lb" x="849" y="758.3">qSI-D06-1+</text></g>
<g id="qLP-D06-1p"><rect class="qb" x="948.2" y="728.3" width="17.6" height="15.7"/><text class="lb" x="965" y="758.3">qLP-D06-1+</text></g>
<g id="qLI-D06-1m"><rect class="qb" x="829.9" y="764" width="13.4" height="16"/><text class="lb" x="840.6" y="794">qLI-D06-1-</text></g>
<g id="qFU-D06-1p"><rect class="qw" x="769" y="799.3" width="20" height="15.7"/><text class="lb" x="787.6" y="830">qFU-D06-1+</text></g>
<g id="qFU-D06-2p"><rect class="qw" x="867" y="799.3" width="40.4" height="15.7"/><text class="lb" x="900.4" y="830">qFU-D06-2+</text></g>
<g id="qLP-D07-1m"><rect class="qb" x="917.6" y="879.3" width="18.8" height="15.7"/><text class="lb" x="931" y="911.7">qLP-D07-1-</text></g>
<g id="qBW-D07-1m"><rect class="qb" x="850.3" y="915" width="27.7" height="15.7"/><text class="lb" x="836.8" y="945">qBW-D07-1-</text></g>
<g id="qSI-D07-2p"><rect class="qb" x="925" y="949.3" width="11" height="17.4"/><text class="lb" x="931" y="981">qSI-D07-2+</text></g>
<g id="qSI-D07-1p"><rect class="qb" x="705.4" y="986" width="6.5" height="15.7"/><text class="lb" x="724.5" y="1016">qSI-D07-1+</text></g>
<g id="qSI-D07-3p"><rect class="qb" x="801.3" y="986" width="29.7" height="15.7"/><text class="lb" x="826.6" y="1017.7">qSI-D07-3+</text></g>
<g id="qLI-D07-1p"><rect class="qb" x="682.1" y="1021.7" width="17.6" height="15.6"/><text class="lb" x="708.6" y="1051.7">qLI-D07-1+</text></g>
<g id="qFM-D07-1m"><rect class="qw" x="901.3" y="1021.7" width="34.7" height="15"/><text class="lb" x="931.5" y="1049.3">qFM-D07-1-</text></g>
<g id="qLI-D08-1p"><rect class="qb" x="687.4" y="1101" width="26.6" height="15.7"/><text class="lb" x="713.3" y="1131">qLI-D08-1+</text></g>
<g id="qFL-D08-1p"><rect class="qw" x="812.7" y="1101.7" width="17.2" height="15"/><text class="lb" x="831.1" y="1131">qFL-D08-1+</text></g>
<g id="qFE-D09-1m"><rect class="qw" x="882.1" y="1180" width="76.7" height="16"/><text class="lb" x="924.8" y="1211">qFE-D09-1-</text></g>
<g id="qFU-D10-1m"><rect class="qw" x="938.4" y="1259.3" width="38.4" height="15.7"/><text class="lb" x="964" y="1290">qFU-D10-1-</text></g>
<g id="qFL-D11-1mp"><rect class="qw" x="876.8" y="1339.3" width="33.9" height="15.7"/><text class="lb" x="906" y="1370">qFL-D11-1-/+</text></g>
<g id="qFM-D11-1m"><rect class="qw" x="889" y="1375" width="19.6" height="15.7"/><text class="lb" x="913" y="1406">qFM-D11-1-</text></g>
<g id="qLP-D12-1m"><rect class="qb" x="893.5" y="1453.3" width="18.4" height="16.7"/><text class="lb" x="910.7" y="1485">qLP-D12-1-</text></g>
<g id="qFE-D12-1p"><rect class="qw" x="910.7" y="1490" width="36.7" height="16"/><text class="lb" x="932.5" y="1521">qFE-D12-1+</text></g>
<g id="qLP-D13-1p"><rect class="qb" x="896.4" y="1569.3" width="13.5" height="15.7"/><text class="lb" x="906" y="1602.3">qLP-D13-1+</text></g>
<g id="qFL-D13-1m"><rect class="qw" x="1016.8" y="1569.3" width="18.4" height="15"/><text class="lb" x="1014.8" y="1604">qFL-D13-1-</text></g>
<g id="qFS-D13-1mp"><rect class="qw" x="1068.6" y="1569.3" width="73.5" height="15"/><text class="lb" x="1113.4" y="1604">qFS-D13-1-/+</text></g>

<!-- QTL clusters -->
<g id="cluster-A07"><rect class="rc" x="415.5" y="684.8" width="99.6" height="124.4"/></g>
<g id="cluster-A10-1"><rect class="rc" x="40.1" y="1082.5" width="105.2" height="118"/></g>
<g id="cluster-A10-2"><rect class="rc" x="182.1" y="1082.5" width="150.1" height="193"/></g>
<g id="cluster-D04"><rect class="rc" x="1016.4" y="385.2" width="108.1" height="150"/></g>
<g id="cluster-D07"><rect class="rc" x="883.4" y="874.2" width="100.3" height="185"/></g>

<!-- legend -->
<g id="legend">
<rect x="52" y="1657" width="23.5" height="24" fill="#000"/>
<text class="lg" x="91.5" y="1676">产量性状QTL</text>
<rect x="260.5" y="1658.5" width="20" height="20" fill="#fff" stroke="#000" stroke-width="3"/>
<text class="lg" x="300" y="1676">纤维品质性状QTL</text>
<rect x="520" y="1658.5" width="21.5" height="20" fill="#fff" stroke="#ef8a8a" stroke-width="3"/>
<text class="lg" x="554" y="1676">QTL簇</text>
<rect x="643.5" y="1666" width="17.5" height="3.6" fill="#000"/>
<text class="lg" x="681" y="1676">加性效应来自渝棉1号</text>
<path d="M935 1668H953.5M944.2 1657.5V1679" stroke="#000" stroke-width="3.4"/>
<text class="lg" x="966.5" y="1676">加性效应来自超早3号</text>
</g>
</svg>
